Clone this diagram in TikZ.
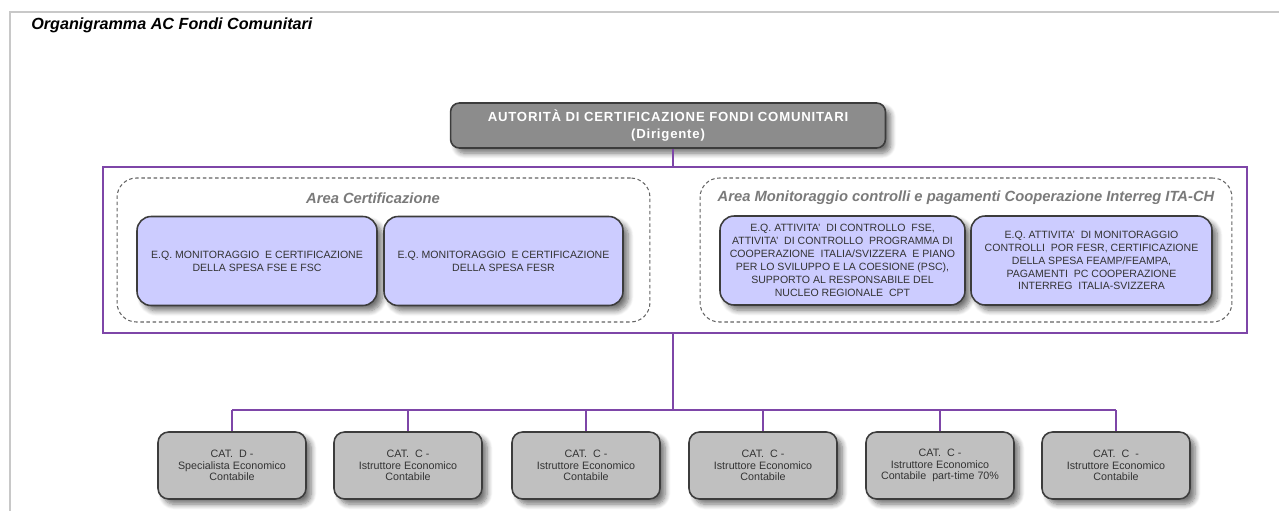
\documentclass[tikz,border=0pt]{standalone}
\usepackage{fontspec}
\setmainfont{Liberation Sans}
\usetikzlibrary{shadows.blur}
\definecolor{purp}{HTML}{7E46A8}
\definecolor{frame}{HTML}{C8C8C8}
\definecolor{bord}{HTML}{3C3C3C}
\definecolor{lav}{HTML}{CCCCFF}
\definecolor{topfill}{HTML}{8C8C8C}
\definecolor{catfill}{HTML}{C0C0C0}
\definecolor{txt}{HTML}{333333}
\definecolor{areatxt}{HTML}{7A7A7A}
\tikzset{
  shad/.style={blur shadow={shadow xshift=3pt, shadow yshift=-3pt, shadow blur steps=8, shadow blur radius=3pt, shadow opacity=55}},
  topbox/.style={draw=bord, line width=0.9pt, fill=topfill, rounded corners=5pt, shad, align=center,
     minimum width=8.7cm, minimum height=0.9cm, text=white, font=\bfseries\fontsize{7.5}{9.2}\selectfont\addfontfeature{LetterSpace=6}},
  lavbox/.style={draw=bord, line width=0.9pt, fill=lav, rounded corners=8pt, shad, align=center,
     minimum height=1.78cm, text=txt, font=\fontsize{6}{7.35}\selectfont},
  catbox/.style={draw=bord, line width=0.9pt, fill=catfill, rounded corners=6pt, shad, align=center,
     minimum width=2.96cm, minimum height=1.34cm, text=txt, font=\fontsize{6.1}{6.6}\selectfont},
  area/.style={draw=bord!80, dashed, dash pattern=on 2pt off 1.5pt, line width=0.6pt, rounded corners=11pt},
  areatitle/.style={text=areatxt, font=\bfseries\itshape\fontsize{8.4}{10}\selectfont},
  conn/.style={draw=purp, line width=1.1pt},
  pageframe/.style={draw=frame, line width=0.8pt}
}
\begin{document}
\begin{tikzpicture}[x=0.02cm, y=-0.02cm]
\useasboundingbox (0,0) rectangle (1279,511);
% page frame
\coordinate (fa) at (1279,12);
\coordinate (fb) at (10,12);
\coordinate (fc) at (10,511);
\draw[pageframe] (fa) -- (fb) -- (fc);
% title
\node[anchor=west, font=\bfseries\itshape\fontsize{9.2}{11}\selectfont, inner sep=0] (title) at (31,25) {Organigramma AC Fondi Comunitari};
% top box
\node[topbox] (top) at (668,125.5) {AUTORITÀ DI CERTIFICAZIONE FONDI COMUNITARI\\(Dirigente)};
% purple frame
\node[draw=purp, line width=1.1pt, minimum width=22.88cm, minimum height=3.32cm, inner sep=0] (purple) at (675,250) {};
% dashed areas
\node[area, minimum width=10.66cm, minimum height=2.88cm, inner sep=0] (areaA) at (383.5,250) {};
\node[area, minimum width=10.64cm, minimum height=2.88cm, inner sep=0] (areaB) at (966,250) {};
\node[areatitle] (titA) at (373,198) {Area Certificazione};
\node[areatitle] (titB) at (966,198) {Area Monitoraggio controlli e pagamenti Cooperazione Interreg ITA-CH};
% lavender boxes
\node[lavbox, minimum width=4.8cm] (l1) at (257,261) {E.Q. MONITORAGGIO \ E CERTIFICAZIONE\\DELLA SPESA FSE E FSC};
\node[lavbox, minimum width=4.78cm] (l2) at (503.5,261) {E.Q. MONITORAGGIO \ E CERTIFICAZIONE\\DELLA SPESA FESR};
\node[lavbox, minimum width=4.9cm] (r1) at (842.5,260.5) {E.Q. ATTIVITA' \ DI CONTROLLO \ FSE,\\ATTIVITA' \ DI CONTROLLO \ PROGRAMMA DI\\COOPERAZIONE \ ITALIA/SVIZZERA \ E PIANO\\PER LO SVILUPPO E LA COESIONE (PSC),\\SUPPORTO AL RESPONSABILE DEL\\NUCLEO REGIONALE \ CPT};
\node[lavbox, minimum width=4.82cm] (r2) at (1091.5,260.5) {E.Q. ATTIVITA' \ DI MONITORAGGIO\\CONTROLLI \ POR FESR, CERTIFICAZIONE\\DELLA SPESA FEAMP/FEAMPA,\\PAGAMENTI \ PC COOPERAZIONE\\INTERREG \ ITALIA-SVIZZERA};
% category boxes
\node[catbox] (c1) at (232,465.5) {CAT. \ D -\\Specialista Economico\\Contabile};
\node[catbox] (c2) at (408,465.5) {CAT. \ C -\\Istruttore Economico\\Contabile};
\node[catbox] (c3) at (586,465.5) {CAT. \ C -\\Istruttore Economico\\Contabile};
\node[catbox] (c4) at (763,465.5) {CAT. \ C -\\Istruttore Economico\\Contabile};
\node[catbox] (c5) at (940,465.5) {CAT. \ C -\\Istruttore Economico\\Contabile \ part-time 70\%};
\node[catbox] (c6) at (1116,465.5) {CAT. \ C \ -\\Istruttore Economico\\Contabile};
% connectors
\coordinate (spine) at (673,0);
\coordinate (bus) at (673,410);
\draw[conn] (top.south -| spine) -- (purple.north -| spine);
\draw[conn] (purple.south -| spine) -- (bus);
\draw[conn] (c1.north |- bus) -- (c6.north |- bus);
\foreach \c in {c1,c2,c3,c4,c5,c6} {
  \draw[conn] (\c.north |- bus) -- (\c.north);
}
\end{tikzpicture}
\end{document}
